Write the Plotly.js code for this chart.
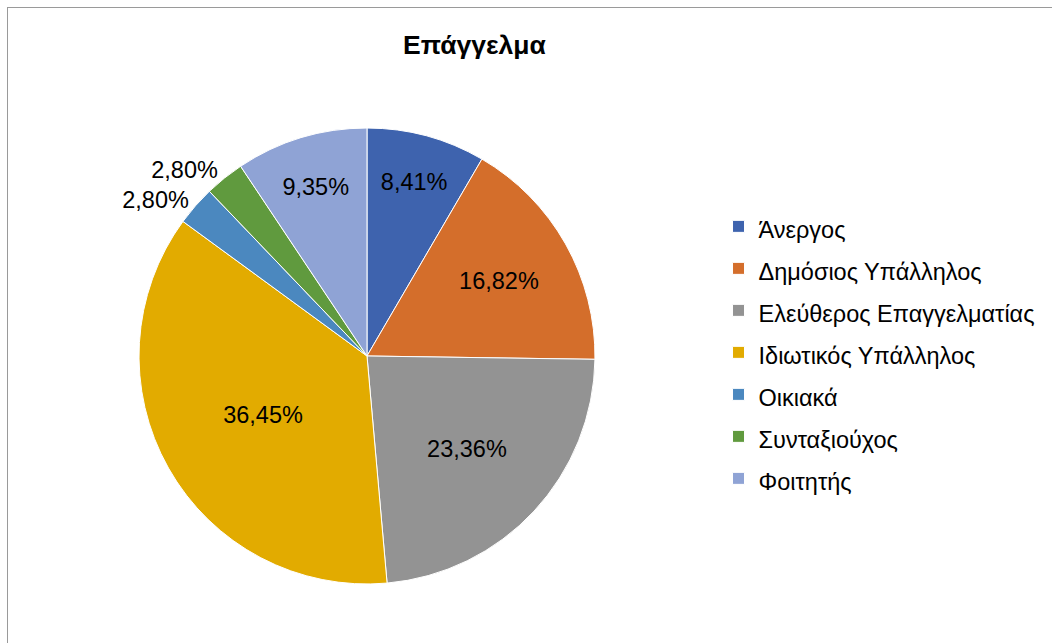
<!DOCTYPE html>
<html>
<head>
<meta charset="utf-8">
<script src="https://cdn.plot.ly/plotly-3.0.1.min.js"></script>
<style>
html,body{margin:0;padding:0;background:#fff;}
#chart{width:1052px;height:643px;position:absolute;left:0;top:0;}
#frame{position:absolute;left:7px;top:7px;width:1060px;height:660px;border-top:1.5px solid #9a9a9a;border-left:1.5px solid #9a9a9a;pointer-events:none;}
</style>
</head>
<body>
<div id="chart"></div>
<div id="frame"></div>
<script>
var categories = ["Άνεργος","Δημόσιος Υπάλληλος","Ελεύθερος Επαγγελματίας","Ιδιωτικός Υπάλληλος","Οικιακά","Συνταξιούχος","Φοιτητής"];
var values = [8.41, 16.82, 23.36, 36.45, 2.80, 2.80, 9.35];
var colors = ["#3e63ae","#d46e2b","#939393","#e2ab00","#4b88bf","#609a3e","#8fa3d5"];
var positions = ["inside","inside","inside","inside","outside","outside","inside"];

var legendLabels = categories.map(function(c){ return '<span style="font-size:23.5px">' + c + '</span>'; });

var trace = {
  type: 'pie',
  labels: legendLabels,
  values: values,
  sort: false,
  direction: 'clockwise',
  rotation: 0,
  marker: {colors: colors, line: {color: '#ffffff', width: 1}},
  texttemplate: '%{value:.2f}%',
  textposition: positions,
  insidetextorientation: 'horizontal',
  textfont: {family: 'Liberation Sans, Arial, sans-serif', size: 23.5, color: '#000000'},
  outsidetextfont: {family: 'Liberation Sans, Arial, sans-serif', size: 23.5, color: '#000000'},
  hoverinfo: 'label+percent',
  domain: {x: [0.1321, 0.5656], y: [0.0918, 0.8009]}
};

var layout = {
  width: 1052, height: 643,
  margin: {l: 0, r: 0, t: 0, b: 0},
  paper_bgcolor: 'rgba(0,0,0,0)',
  separators: ',.',
  font: {family: 'Liberation Sans, Arial, sans-serif', color: '#000000'},
  title: {text: '<b>Επάγγελμα</b>', font: {size: 26.5, family: 'Liberation Sans, Arial, sans-serif', color: '#000'}, x: 0.451, xanchor: 'center', y: 0.93, yanchor: 'middle'},
  showlegend: true,
  legend: {x: 0.683, xanchor: 'left', y: 0.452, yanchor: 'middle', font: {size: 30, family: 'Liberation Sans, Arial, sans-serif', color: '#000'}, itemwidth: 30, bgcolor: 'rgba(0,0,0,0)'}
};

Plotly.newPlot('chart', [trace], layout, {displayModeBar: false, staticPlot: true});
</script>
</body>
</html>
